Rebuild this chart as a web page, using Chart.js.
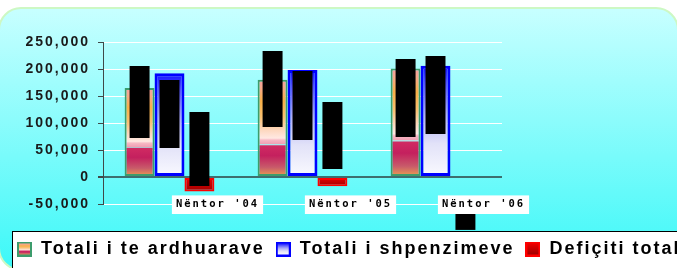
<!DOCTYPE html>
<html><head><meta charset="utf-8">
<script src="https://cdn.jsdelivr.net/npm/chart.js@4/dist/chart.umd.min.js"></script>
<style>html,body{margin:0;padding:0;background:#fff;overflow:hidden}canvas{display:block}</style>
</head><body>
<canvas id="c" width="677" height="268" style="width:677px;height:268px"></canvas>
<script>
// ---- data ----
const categories = ["Nëntor '04", "Nëntor '05", "Nëntor '06"];
const seriesNames = ['Totali i te ardhuarave', 'Totali i shpenzimeve', 'Defiçiti total'];
const revenue = [165000, 180000, 201000];
const expenditure = [192000, 198000, 206000];
const deficit = [-27000, -17000, 0];
// value spans covered by the (blacked-out) vertical data labels
const revenueLabelSpan = [[72000, 205500], [92600, 233300], [74000, 218500]];
const expenditureLabelSpan = [[53700, 179600], [68500, 196300], [79600, 224000]];
const deficitLabelSpan = [[-16700, 120400], [14800, 138900], [-68500, -98000]];
const yTicks = [-50000, 0, 50000, 100000, 150000, 200000, 250000];

// ---- styles ----
const greenStops = [[0,'#f4a0a0'],[0.07,'#f6a890'],[0.22,'#f8b048'],[0.38,'#f9c070'],[0.52,'#fdd8c0'],[0.6,'#ffe8e2'],[0.62,'#f7b8c4'],[0.66,'#f0a0b4'],[0.665,'#a8f0f0'],[0.68,'#d02a62'],[0.78,'#c4205e'],[0.9,'#c85a6a'],[1,'#eca450']];
const blueStops = [[0,'#1010ff'],[0.15,'#5050ff'],[0.45,'#b0b0f6'],[0.7,'#e2e2f8'],[1,'#fafaff']];
const redStops = [[0,'#ee0000'],[1,'#a00000']];

function vGrad(stops, fallback) {
  return (c) => {
    if (c.type !== 'data') return fallback;
    const chart = c.chart, ys = chart.scales.y;
    if (!ys || !chart.chartArea) return fallback;
    const v = c.raw;
    const a = ys.getPixelForValue(Math.max(v, 0)), b = ys.getPixelForValue(Math.min(v, 0));
    if (!isFinite(a) || !isFinite(b) || Math.abs(a - b) < 0.5) return fallback;
    const g = chart.ctx.createLinearGradient(0, a, 0, b);
    stops.forEach(([o, col]) => g.addColorStop(o, col));
    return g;
  };
}
function makeIcon(stops, border, bw) {
  const cv = document.createElement('canvas'); cv.width = 15; cv.height = 15;
  const x = cv.getContext('2d');
  x.fillStyle = border; x.fillRect(0, 0, 15, 15);
  const g = x.createLinearGradient(0, bw, 0, 15 - bw);
  stops.forEach(([o, col]) => g.addColorStop(o, col));
  x.fillStyle = g; x.fillRect(bw, bw, 15 - 2 * bw, 15 - 2 * bw);
  return cv;
}
const icons = [makeIcon(greenStops, '#3c9c6c', 2), makeIcon(blueStops, '#0000ff', 2), makeIcon(redStops, '#ff0000', 2)];

const spacing = '2px';
const bgPlugin = {
  id: 'bg',
  beforeUpdate(chart) { chart.ctx.letterSpacing = spacing; },
  beforeDraw(chart) {
    const ctx = chart.ctx;
    ctx.letterSpacing = spacing;
    ctx.save();
    const g = ctx.createLinearGradient(0, 8, 0, 268);
    g.addColorStop(0, '#c8ffff'); g.addColorStop(1, '#3cf8f8');
    ctx.beginPath();
    if (ctx.roundRect) ctx.roundRect(-1, 8, 679, 262, 22); else ctx.rect(-1, 8, 679, 262);
    ctx.fillStyle = g; ctx.fill();
    ctx.lineWidth = 2; ctx.strokeStyle = '#cdf8c4'; ctx.stroke();
    const lg = chart.legend;
    if (lg) {
      ctx.fillStyle = '#ffffff';
      ctx.fillRect(12.5, lg.top + 2.5, 720, 80);
      ctx.lineWidth = 1; ctx.strokeStyle = '#000000';
      ctx.strokeRect(12.5, lg.top + 2.5, 720, 80);
    }
    ctx.restore();
  }
};

const stacks = ['a', 'b', 'c'];
const barCommon = { categoryPercentage: 0.675, barPercentage: 1.0, order: 1 };
const boxCommon = { categoryPercentage: 0.675, barPercentage: 0.667, order: 0, backgroundColor: '#000', borderWidth: 0, clip: false };

new Chart(document.getElementById('c'), {
  type: 'bar',
  data: {
    labels: categories,
    datasets: [
      Object.assign({ label: seriesNames[0], stack: stacks[0], data: revenue, backgroundColor: vGrad(greenStops, '#f8b048'), borderColor: '#3c9c6c', borderWidth: 2, borderSkipped: false }, barCommon),
      Object.assign({ label: seriesNames[1], stack: stacks[1], data: expenditure, backgroundColor: vGrad(blueStops, '#b0b0f6'), borderColor: '#0000ff', borderWidth: 3, borderSkipped: false }, barCommon),
      Object.assign({ label: seriesNames[2], stack: stacks[2], data: deficit, backgroundColor: vGrad(redStops, '#c00000'), borderColor: '#ff0000', borderWidth: 2, borderSkipped: false }, barCommon),
      Object.assign({ label: 'lbl1', stack: stacks[0], data: revenueLabelSpan }, boxCommon),
      Object.assign({ label: 'lbl2', stack: stacks[1], data: expenditureLabelSpan }, boxCommon),
      Object.assign({ label: 'lbl3', stack: stacks[2], data: deficitLabelSpan }, boxCommon)
    ]
  },
  options: {
    responsive: false,
    animation: false,
    devicePixelRatio: 1,
    layout: { padding: { left: 6, right: -30, top: 42, bottom: 0 } },
    scales: {
      x: {
        type: 'category', position: 'bottom', offset: true,
        grid: { display: false, drawTicks: false },
        border: { display: false },
        ticks: {
          color: '#000', font: { family: 'DejaVu Sans Mono', weight: 'bold', size: 10.5 },
          labelOffset: 48, mirror: true, padding: -7, maxRotation: 0, autoSkip: false,
          showLabelBackdrop: true, backdropColor: '#ffffff',
          backdropPadding: { top: 3, bottom: 3, left: 4, right: 4 }
        },
        afterFit: s => { s.height = 25; }
      },
      y: {
        type: 'linear', position: 'left', min: -50000, max: 250000, stacked: false,
        afterBuildTicks: s => { s.ticks = yTicks.map(v => ({ value: v })); },
        grid: {
          color: c => (c.tick && c.tick.value === 0) ? '#3d6f6f' : '#ffffff',
          lineWidth: c => (c.tick && c.tick.value === 0) ? 2 : 1,
          tickColor: '#404848', tickLength: 5, drawTicks: true
        },
        border: { color: '#404848', width: 1 },
        ticks: {
          color: '#1a1a1a', font: { family: 'Liberation Sans', weight: 'bold', size: 14 },
          padding: 8, callback: v => Number(v).toLocaleString('en-US')
        },
        afterFit: s => { s.width = 97; }
      },
      r: {
        type: 'linear', position: 'right', display: true,
        grid: { display: false, drawTicks: false }, border: { display: false },
        ticks: { display: false },
        afterFit: s => { s.width = 205; }
      }
    },
    plugins: {
      tooltip: { enabled: false },
      legend: {
        position: 'bottom', align: 'start',
        labels: {
          usePointStyle: true, boxWidth: 15, boxHeight: 15, padding: 11,
          color: '#000', font: { family: 'Liberation Sans', weight: 'bold', size: 18 },
          generateLabels: () => seriesNames.map((t, i) => ({
            text: t, pointStyle: icons[i], datasetIndex: i, hidden: false,
            fontColor: '#000', fillStyle: '#000', strokeStyle: '#000', lineWidth: 0
          }))
        }
      }
    }
  },
  plugins: [bgPlugin]
});
</script>
</body></html>
